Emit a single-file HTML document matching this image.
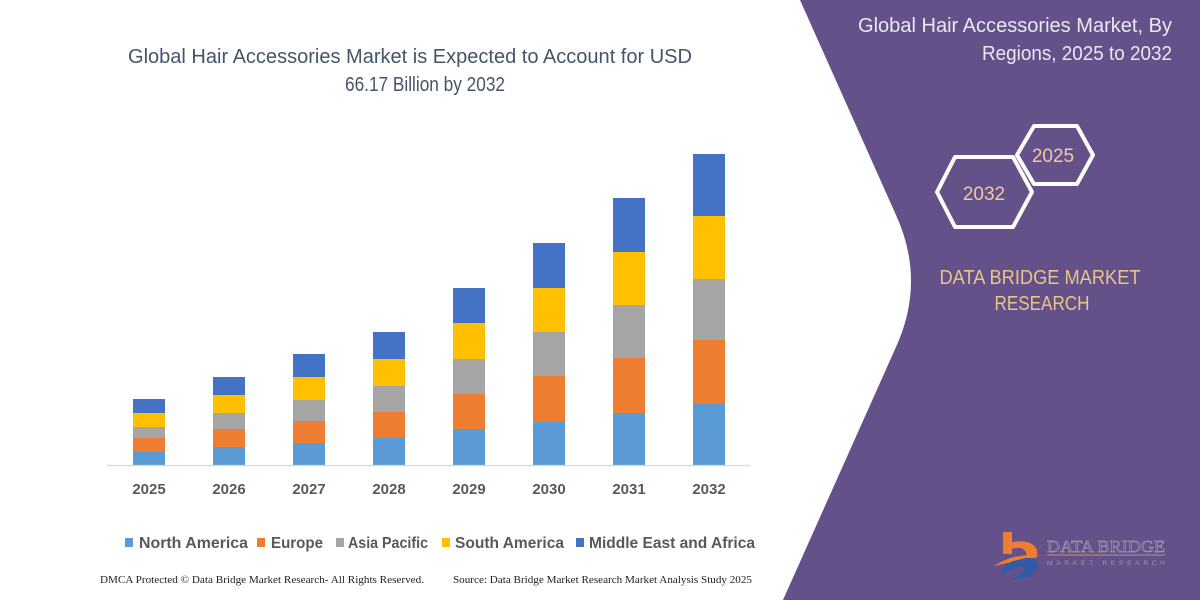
<!DOCTYPE html>
<html>
<head>
<meta charset="utf-8">
<style>
  html, body { margin: 0; padding: 0; background: #ffffff; }
  body { width: 1200px; height: 600px; overflow: hidden; }
  svg { display: block; }
  .t { font-family: "Liberation Sans", "DejaVu Sans", sans-serif; }
  .s { font-family: "Liberation Serif", "DejaVu Serif", serif; }
</style>
</head>
<body>
<svg width="1200" height="600" viewBox="0 0 1200 600" xmlns="http://www.w3.org/2000/svg">
  <rect x="0" y="0" width="1200" height="600" fill="#ffffff"/>

  <!-- Purple panel -->
  <path d="M800,0 L896,215 Q926,281 896,347 L783,600 L1200,600 L1200,0 Z" fill="#65518a"/>

  <!-- Main title -->
  <text class="t" x="128" y="63" font-size="20" fill="#44546a" textLength="564" lengthAdjust="spacingAndGlyphs">Global Hair Accessories Market is Expected to Account for USD</text>
  <text class="t" x="345" y="91" font-size="20" fill="#44546a" textLength="160" lengthAdjust="spacingAndGlyphs">66.17 Billion by 2032</text>

  <!-- Bars -->
  <g>
    <!-- 2025 -->
    <rect x="133" y="452" width="32" height="13" fill="#5b9bd5"/>
    <rect x="133" y="438" width="32" height="14" fill="#ed7d31"/>
    <rect x="133" y="427" width="32" height="11" fill="#a5a5a5"/>
    <rect x="133" y="413" width="32" height="14" fill="#ffc000"/>
    <rect x="133" y="399" width="32" height="14" fill="#4472c4"/>
    <!-- 2026 -->
    <rect x="213" y="447" width="32" height="18" fill="#5b9bd5"/>
    <rect x="213" y="429" width="32" height="18" fill="#ed7d31"/>
    <rect x="213" y="413" width="32" height="16" fill="#a5a5a5"/>
    <rect x="213" y="395" width="32" height="18" fill="#ffc000"/>
    <rect x="213" y="377" width="32" height="18" fill="#4472c4"/>
    <!-- 2027 -->
    <rect x="293" y="443" width="32" height="22" fill="#5b9bd5"/>
    <rect x="293" y="421" width="32" height="22" fill="#ed7d31"/>
    <rect x="293" y="400" width="32" height="21" fill="#a5a5a5"/>
    <rect x="293" y="377" width="32" height="23" fill="#ffc000"/>
    <rect x="293" y="354" width="32" height="23" fill="#4472c4"/>
    <!-- 2028 -->
    <rect x="373" y="438" width="32" height="27" fill="#5b9bd5"/>
    <rect x="373" y="412" width="32" height="26" fill="#ed7d31"/>
    <rect x="373" y="386" width="32" height="26" fill="#a5a5a5"/>
    <rect x="373" y="359" width="32" height="27" fill="#ffc000"/>
    <rect x="373" y="332" width="32" height="27" fill="#4472c4"/>
    <!-- 2029 -->
    <rect x="453" y="429" width="32" height="36" fill="#5b9bd5"/>
    <rect x="453" y="394" width="32" height="35" fill="#ed7d31"/>
    <rect x="453" y="359" width="32" height="35" fill="#a5a5a5"/>
    <rect x="453" y="323" width="32" height="36" fill="#ffc000"/>
    <rect x="453" y="288" width="32" height="35" fill="#4472c4"/>
    <!-- 2030 -->
    <rect x="533" y="422" width="32" height="43" fill="#5b9bd5"/>
    <rect x="533" y="376" width="32" height="46" fill="#ed7d31"/>
    <rect x="533" y="332" width="32" height="44" fill="#a5a5a5"/>
    <rect x="533" y="288" width="32" height="44" fill="#ffc000"/>
    <rect x="533" y="243" width="32" height="45" fill="#4472c4"/>
    <!-- 2031 -->
    <rect x="613" y="413" width="32" height="52" fill="#5b9bd5"/>
    <rect x="613" y="358" width="32" height="55" fill="#ed7d31"/>
    <rect x="613" y="305" width="32" height="53" fill="#a5a5a5"/>
    <rect x="613" y="252" width="32" height="53" fill="#ffc000"/>
    <rect x="613" y="198" width="32" height="54" fill="#4472c4"/>
    <!-- 2032 -->
    <rect x="693" y="404" width="32" height="61" fill="#5b9bd5"/>
    <rect x="693" y="340" width="32" height="64" fill="#ed7d31"/>
    <rect x="693" y="279" width="32" height="61" fill="#a5a5a5"/>
    <rect x="693" y="216" width="32" height="63" fill="#ffc000"/>
    <rect x="693" y="154" width="32" height="62" fill="#4472c4"/>
  </g>

  <!-- Axis -->
  <line x1="107" y1="465.5" x2="750" y2="465.5" stroke="#d9d9d9" stroke-width="1.2"/>

  <!-- Year labels -->
  <g class="t" font-size="15" font-weight="bold" fill="#595959" text-anchor="middle">
    <text x="149" y="494">2025</text>
    <text x="229" y="494">2026</text>
    <text x="309" y="494">2027</text>
    <text x="389" y="494">2028</text>
    <text x="469" y="494">2029</text>
    <text x="549" y="494">2030</text>
    <text x="629" y="494">2031</text>
    <text x="709" y="494">2032</text>
  </g>

  <!-- Legend -->
  <rect x="125" y="538" width="8" height="9" fill="#5b9bd5"/>
  <rect x="257" y="538" width="8" height="9" fill="#ed7d31"/>
  <rect x="336" y="538" width="8" height="9" fill="#a5a5a5"/>
  <rect x="442" y="538" width="8" height="9" fill="#ffc000"/>
  <rect x="576" y="538" width="8" height="9" fill="#4472c4"/>
  <g class="t" font-size="16" font-weight="bold" fill="#595959">
    <text x="139" y="548" textLength="109" lengthAdjust="spacingAndGlyphs">North America</text>
    <text x="271" y="548" textLength="52" lengthAdjust="spacingAndGlyphs">Europe</text>
    <text x="348" y="548" textLength="80" lengthAdjust="spacingAndGlyphs">Asia Pacific</text>
    <text x="455" y="548" textLength="109" lengthAdjust="spacingAndGlyphs">South America</text>
    <text x="589" y="548" textLength="166" lengthAdjust="spacingAndGlyphs">Middle East and Africa</text>
  </g>

  <!-- Footer -->
  <g class="s" font-size="11" fill="#222222">
    <text x="100" y="583" textLength="324" lengthAdjust="spacingAndGlyphs">DMCA Protected © Data Bridge Market Research-  All Rights Reserved.</text>
    <text x="453" y="583" textLength="299" lengthAdjust="spacingAndGlyphs">Source: Data Bridge Market Research  Market Analysis Study 2025</text>
  </g>

  <!-- Right panel title -->
  <g class="t" font-size="20" fill="#ece8f3" text-anchor="end">
    <text x="1172" y="32" textLength="314" lengthAdjust="spacingAndGlyphs">Global Hair Accessories Market, By</text>
    <text x="1172" y="60" textLength="190" lengthAdjust="spacingAndGlyphs">Regions, 2025 to 2032</text>
  </g>

  <!-- Hexagons -->
  <polygon points="937,192 955,157 1013,157 1032,192 1013,227 955,227" fill="none" stroke="#ffffff" stroke-width="4" stroke-linejoin="round"/>
  <polygon points="1017,155 1034,126 1077,126 1093,155 1077,184 1034,184" fill="none" stroke="#ffffff" stroke-width="4" stroke-linejoin="round"/>
  <g class="t" font-size="19" fill="#efca9c" text-anchor="middle">
    <text x="984" y="200">2032</text>
    <text x="1053" y="162">2025</text>
  </g>

  <!-- DATA BRIDGE MARKET RESEARCH -->
  <g class="t" font-size="20" fill="#e9c585" text-anchor="middle">
    <text x="1040" y="284" textLength="201" lengthAdjust="spacingAndGlyphs">DATA BRIDGE MARKET</text>
    <text x="1042" y="310" textLength="95" lengthAdjust="spacingAndGlyphs">RESEARCH</text>
  </g>

  <!-- Logo -->
  <g>
    <rect x="1003" y="532" width="9" height="22" fill="#ed7d31"/>
    <path d="M1003,545 Q1020,538 1032,544 Q1040,550 1036,558 L1026,558 Q1028,550 1020,548 Q1012,547 1006,552 Z" fill="#ed7d31"/>
    <path d="M994,566 Q1015,552 1042,556 Q1028,556 1012,562 Z" fill="#ed7d31"/>
    <path d="M1000,575 Q1004,562 1018,560 L1030,558 Q1040,560 1037,569 Q1030,580 1010,580 Q1022,574 1026,566 Q1016,566 1008,572 Z" fill="#2e5ca8"/>
    <text class="s" x="1047" y="552" font-size="17" fill="none" stroke="#9a96a8" stroke-width="0.7" textLength="118" lengthAdjust="spacingAndGlyphs">DATA BRIDGE</text>
    <line x1="1047" y1="555" x2="1107" y2="555" stroke="#d98a6a" stroke-width="1"/>
    <line x1="1107" y1="555" x2="1165" y2="555" stroke="#9a96a8" stroke-width="1"/>
    <text class="t" x="1047" y="565" font-size="6.5" fill="#9a96a8" textLength="118" lengthAdjust="spacing">MARKET RESEARCH</text>
  </g>
</svg>
</body>
</html>
